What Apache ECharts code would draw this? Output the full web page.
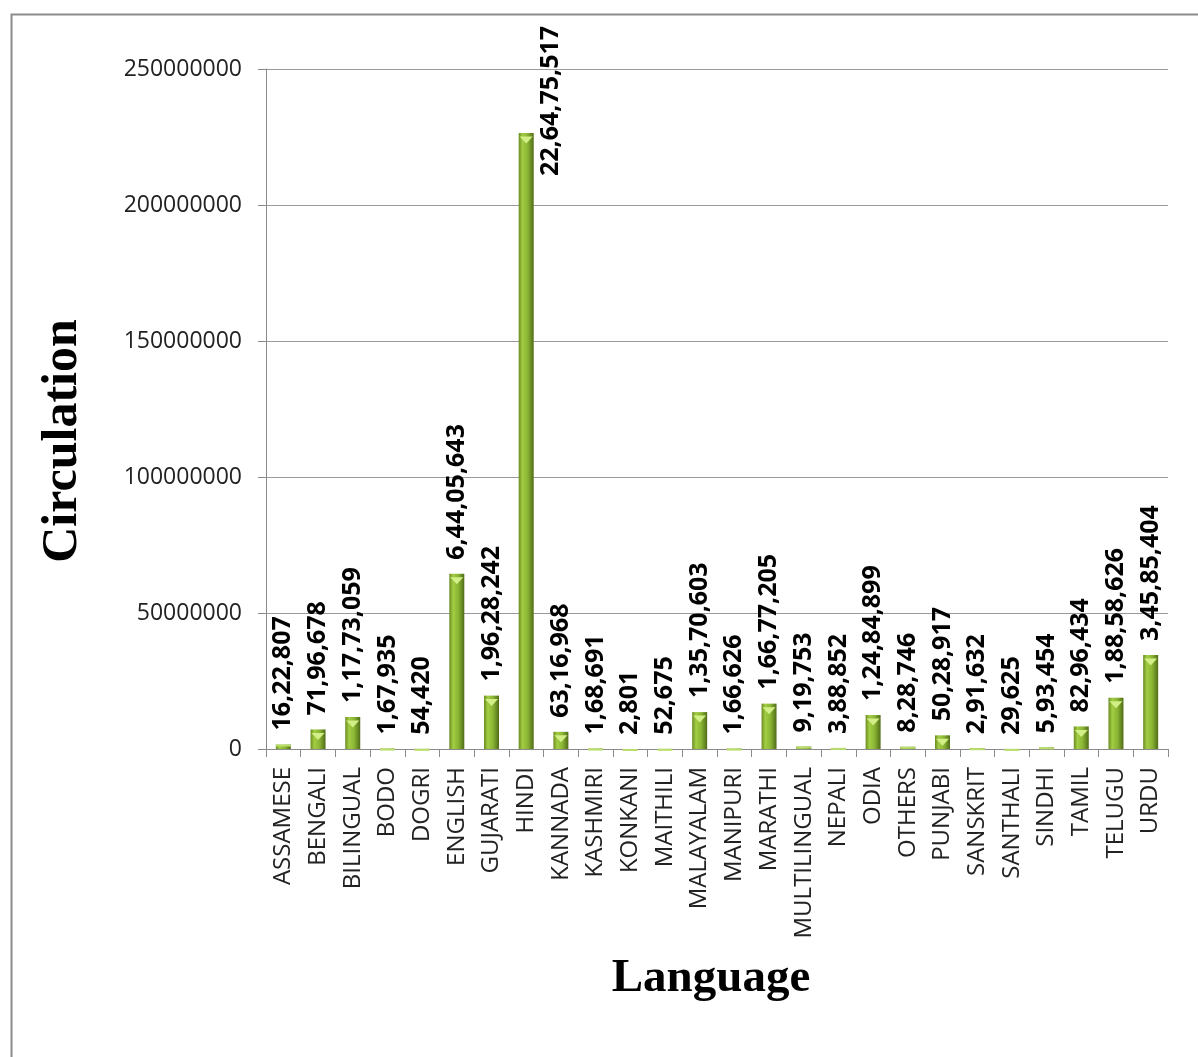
<!DOCTYPE html>
<html>
<head>
<meta charset="utf-8">
<script src="https://cdn.jsdelivr.net/npm/echarts@6/dist/echarts.min.js"></script>
<style>
html,body{margin:0;padding:0;background:#fff;}
#chart{width:1198px;height:1057px;}
</style>
</head>
<body>
<div id="chart"></div>
<script>
const categories = ['ASSAMESE','BENGALI','BILINGUAL','BODO','DOGRI','ENGLISH','GUJARATI','HINDI','KANNADA','KASHMIRI','KONKANI','MAITHILI','MALAYALAM','MANIPURI','MARATHI','MULTILINGUAL','NEPALI','ODIA','OTHERS','PUNJABI','SANSKRIT','SANTHALI','SINDHI','TAMIL','TELUGU','URDU'];
const circulation = [1622807,7196678,11773059,167935,54420,64405643,19628242,226475517,6316968,168691,2801,52675,13570603,166626,16677205,919753,388852,12484899,828746,5028917,291632,29625,593454,8296434,18858626,34585404];
const yTicks = [0,50000000,100000000,150000000,200000000,250000000];

function indian(n){
  const s = String(n);
  if (s.length <= 3) return s;
  const last3 = s.slice(-3);
  let rest = s.slice(0, -3);
  const parts = [];
  while (rest.length > 2) { parts.unshift(rest.slice(-2)); rest = rest.slice(0, -2); }
  if (rest) parts.unshift(rest);
  return parts.join(',') + ',' + last3;
}

const maxVal = Math.max(...circulation);
const barData = circulation.map(v => {
  const item = { value: v };
  if (v === maxVal) {
    item.label = { position: 'top', distance: 0, align: 'center', verticalAlign: 'middle', offset: [32, 25] };
  }
  return item;
});
// top caps: triangle on visible bars, thin light strip on tiny bars
const capData = circulation.map(v => {
  if (v < 3000000) {
    return { value: v, symbol: 'rect', symbolSize: [15, 2], symbolOffset: [0, 0], itemStyle: { color: '#b9dd6a' } };
  }
  return { value: v };
});

const chart = echarts.init(document.getElementById('chart'));
const font = '"Open Sans", "DejaVu Sans", sans-serif';
chart.setOption({
  animation: false,
  backgroundColor: '#fff',
  grid: { left: 266, right: 30, top: 69, bottom: 308, containLabel: false },
  xAxis: {
    type: 'category',
    data: categories,
    axisLine: { lineStyle: { color: '#8a8a8a', width: 1 } },
    axisTick: { show: true, length: 8, lineStyle: { color: '#8a8a8a' } },
    axisLabel: { rotate: 90, interval: 0, margin: 18, color: '#222', fontFamily: font, fontSize: 24 },
    splitLine: { show: false }
  },
  yAxis: {
    type: 'value',
    min: yTicks[0],
    max: yTicks[yTicks.length - 1],
    interval: yTicks[1] - yTicks[0],
    axisLine: { show: true, lineStyle: { color: '#8a8a8a', width: 1 } },
    axisTick: { show: true, length: 8, lineStyle: { color: '#8a8a8a' } },
    axisLabel: { margin: 24, color: '#222', fontFamily: font, fontSize: 23, formatter: v => String(v) },
    splitLine: { show: true, lineStyle: { color: '#9a9a9a', width: 1 } }
  },
  series: [
    {
      type: 'bar',
      data: barData,
      barWidth: 15,
      itemStyle: {
        color: new echarts.graphic.LinearGradient(0, 0, 1, 0, [
          { offset: 0, color: '#6a8c22' },
          { offset: 0.25, color: '#a2cd43' },
          { offset: 0.6, color: '#8ab534' },
          { offset: 1, color: '#4f6c17' }
        ])
      },
      label: {
        show: true,
        position: 'top',
        distance: 14,
        rotate: 90,
        align: 'left',
        verticalAlign: 'middle',
        color: '#000',
        fontFamily: font,
        fontWeight: 'bold',
        fontSize: 25,
        formatter: p => indian(p.value)
      },
      z: 2
    },
    {
      type: 'pictorialBar',
      data: capData,
      symbol: 'triangle',
      symbolRotate: 180,
      symbolSize: [13, 7],
      symbolPosition: 'end',
      symbolOffset: [0, '50%'],
      itemStyle: { color: '#d2ee86' },
      silent: true,
      z: 3
    }
  ],
  graphic: [
    { type: 'rect', left: 9, top: 12, shape: { width: 1300, height: 1200 }, style: { fill: 'none', stroke: '#8c8c8c', lineWidth: 2 }, z: 0 },
    { type: 'text', x: 63, y: 441, rotation: Math.PI / 2, style: { text: 'Circulation', fill: '#000', font: 'bold 50px "Liberation Serif", "DejaVu Serif", serif', align: 'center', verticalAlign: 'middle' } },
    { type: 'text', x: 711, y: 979, style: { text: 'Language', fill: '#000', font: 'bold 47px "Liberation Serif", "DejaVu Serif", serif', align: 'center', verticalAlign: 'middle' } }
  ]
});
</script>
</body>
</html>
